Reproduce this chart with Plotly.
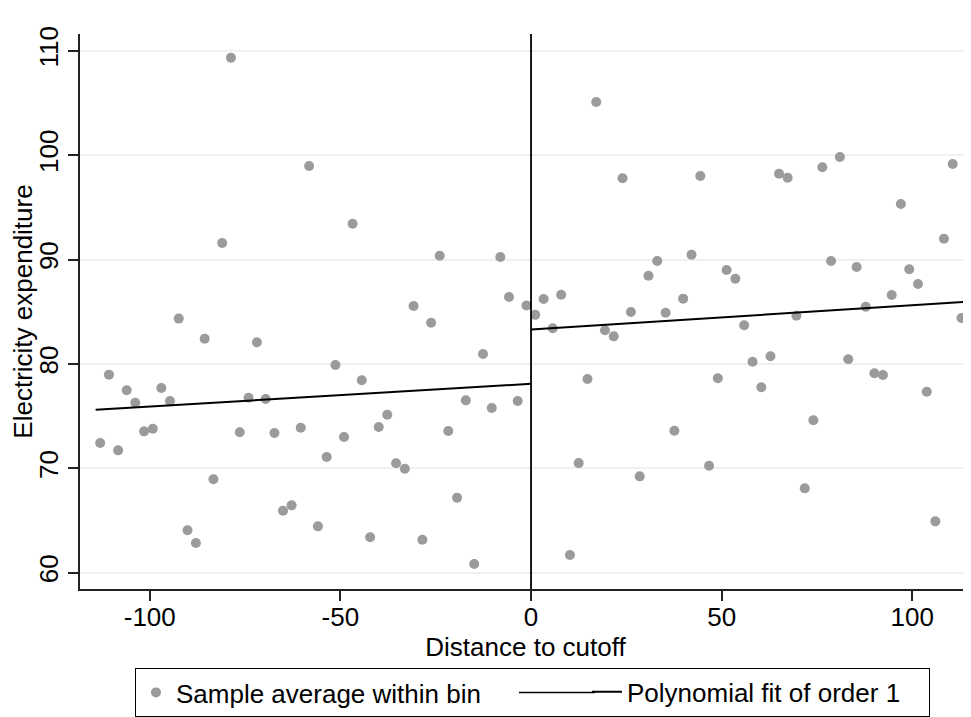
import plotly.graph_objects as go

# Binned sample averages (left of cutoff)
left_x = [-113.0, -110.7, -108.3, -106.05, -103.8, -101.5, -99.2, -96.97, -94.7, -92.4,
          -90.1, -87.9, -85.6, -83.3, -81.0, -78.7, -76.4, -74.1, -71.9, -69.6,
          -67.3, -65.05, -62.8, -60.4, -58.2, -55.9, -53.6, -51.3, -49.05, -46.8,
          -44.4, -42.2, -39.95, -37.7, -35.4, -33.1, -30.8, -28.5, -26.2, -23.95,
          -21.7, -19.4, -17.1, -14.9, -12.6, -10.3, -8.05, -5.77, -3.5, -1.2]
left_y = [72.42, 78.97, 71.72, 77.47, 76.28, 73.54, 73.79, 77.69, 76.45, 84.34,
          64.06, 62.84, 82.41, 68.95, 91.58, 109.33, 73.45, 76.76, 82.07, 76.64,
          73.38, 65.94, 66.45, 73.89, 98.95, 64.44, 71.08, 79.89, 73.0, 93.43,
          78.43, 63.39, 73.96, 75.13, 70.48, 69.96, 85.55, 63.16, 83.95, 90.36,
          73.57, 67.18, 76.51, 60.83, 80.95, 75.78, 90.24, 86.41, 76.45, 85.6]

# Binned sample averages (right of cutoff)
right_x = [1.1, 3.3, 5.7, 7.9, 10.2, 12.5, 14.8, 17.1, 19.4, 21.7,
           24.0, 26.2, 28.5, 30.8, 33.1, 35.3, 37.6, 39.9, 42.1, 44.4,
           46.7, 49.0, 51.3, 53.6, 55.9, 58.1, 60.4, 62.8, 65.05, 67.3,
           69.6, 71.8, 74.05, 76.4, 78.7, 81.0, 83.2, 85.4, 87.8, 90.05,
           92.3, 94.6, 97.0, 99.2, 101.5, 103.8, 106.05, 108.3, 110.6, 112.9]
right_y = [84.7, 86.22, 83.41, 86.63, 61.7, 70.5, 78.55, 105.09, 83.22, 82.64,
           97.78, 84.97, 69.23, 88.45, 89.86, 84.9, 73.6, 86.25, 90.46, 98.0,
           70.25, 78.62, 89.0, 88.16, 83.7, 80.21, 77.76, 80.73, 98.22, 97.84,
           84.62, 68.08, 74.6, 98.83, 89.86, 99.82, 80.44, 89.28, 85.48, 79.1,
           78.94, 86.6, 95.32, 89.06, 87.65, 77.34, 64.92, 91.99, 99.15, 84.4]

# Linear fit endpoints
fit_left_x = [-114.2, 0]
fit_left_y = [75.6, 78.1]
fit_right_x = [0, 114.2]
fit_right_y = [83.3, 85.95]

x_ticks = [-100, -50, 0, 50, 100]
x_ticktext = ["-100", "-50", "0", "50", "100"]
y_ticks = [60, 70, 80, 90, 100, 110]

FONT = "Liberation Sans, Arial, sans-serif"
GREY = "#9b9b9b"
FS = 26

fig = go.Figure()
fig.add_trace(go.Scatter(
    x=left_x + right_x, y=left_y + right_y, mode="markers",
    marker=dict(color=GREY, size=10, line=dict(width=0)),
    name="Sample average within bin", legend="legend"))
fig.add_trace(go.Scatter(
    x=fit_left_x, y=fit_left_y, mode="lines",
    line=dict(color="black", width=2),
    name="Polynomial fit of order 1", legend="legend2"))
fig.add_trace(go.Scatter(
    x=fit_right_x, y=fit_right_y, mode="lines",
    line=dict(color="black", width=2),
    name="Polynomial fit of order 1", showlegend=False))

fig.add_shape(type="line", xref="x", yref="paper", x0=0, x1=0, y0=0, y1=1,
              line=dict(color="black", width=1.8))
# longer legend key line (decoration)
fig.add_shape(type="line", xref="paper", yref="paper", x0=0.4927, x1=0.578,
              y0=-0.1863, y1=-0.1863, line=dict(color="black", width=1.5))

fig.update_layout(
    width=963, height=709, autosize=False,
    margin=dict(l=72, r=0, t=26, b=128, pad=0),
    paper_bgcolor="white", plot_bgcolor="white",
    font=dict(family=FONT, size=FS, color="black"),
    showlegend=True,
    legend=dict(orientation="h", x=0.0617, y=-0.143, xanchor="left", yanchor="top",
                bordercolor="black", borderwidth=1, bgcolor="rgba(0,0,0,0)",
                font=dict(size=FS), entrywidth=748, entrywidthmode="pixels"),
    legend2=dict(orientation="h", x=0.569, y=-0.143, xanchor="left", yanchor="top",
                 borderwidth=0, bgcolor="rgba(0,0,0,0)", font=dict(size=FS)),
    xaxis=dict(range=[-118.3, 115.4], tickvals=x_ticks, ticktext=x_ticktext,
               ticks="outside", ticklen=10, ticklabelstandoff=-6,
               tickwidth=1.5, tickcolor="#222", showline=True, linecolor="#222",
               linewidth=1.5, showgrid=False, zeroline=False,
               title=dict(text="Distance to cutoff", standoff=0,
                          font=dict(size=FS, family=FONT)),
               tickfont=dict(size=FS)),
    yaxis=dict(range=[58.44, 111.6], tickvals=y_ticks, ticks="outside", ticklen=10,
               tickwidth=1.5, tickcolor="#222", showline=True, linecolor="#222",
               linewidth=1.5, showgrid=True, gridcolor="#eaf2f3", gridwidth=1.5,
               zeroline=False, tickangle=-90,
               title=dict(text="Electricity expenditure", standoff=3,
                          font=dict(size=FS, family=FONT)),
               tickfont=dict(size=FS)),
)

fig.write_html("out.html")
